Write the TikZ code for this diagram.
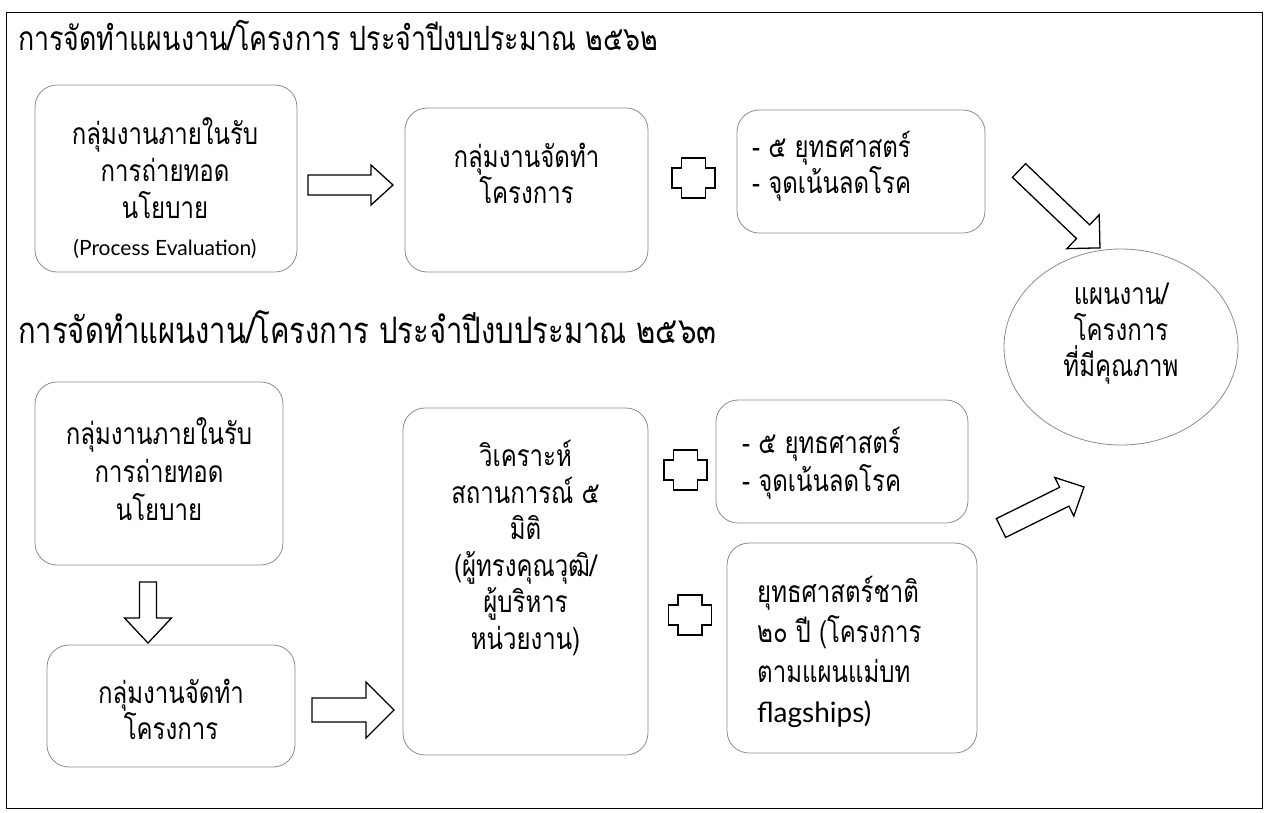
\documentclass[tikz,border=0pt]{standalone}
\usepackage{fontspec}
\newfontfamily\thai[Script=Thai,FakeStretch=0.8]{Loma}
\newfontfamily\latin{Lato}
\usetikzlibrary{shapes.geometric}
\tikzset{
  box/.style={draw=black!45, line width=0.8pt, rounded corners=22pt, inner sep=0pt},
  txt/.style={font=\thai\fontsize{30}{36}\selectfont, align=center, inner sep=0pt},
  ltxt/.style={font=\thai\fontsize{30}{30}\selectfont, align=left, inner sep=0pt, anchor=west},
  ttl/.style={font=\thai\fontsize{33.5}{36}\selectfont, inner sep=0pt, anchor=base west},
  arrsty/.style={draw=black, line width=1.3pt, fill=white, line join=miter},
  pics/barrow/.style n args={4}{code={%
    \draw[arrsty] (0,-#2) -- ({#1-#4},-#2) -- ({#1-#4},-#3) -- (#1,0) -- ({#1-#4},#3) -- ({#1-#4},#2) -- (0,#2) -- cycle;}},
  pics/plussign/.style={code={%
    \draw[arrsty] (-12,-20) -- (12,-20) -- (12,-10) -- (21.5,-10) -- (21.5,10) -- (12,10) -- (12,20) -- (-12,20) -- (-12,10) -- (-21.5,10) -- (-21.5,-10) -- (-12,-10) -- cycle;}}
}
\begin{document}
\begin{tikzpicture}[x=1pt,y=-1pt]
\useasboundingbox (0,0) rectangle (1272,812);
\node[draw=black, line width=1pt, minimum width=1256pt, minimum height=796pt, inner sep=0pt] (frame) at (634,410) {};

% titles
\node[ttl] (t1) at (18,50) {การจัดทำแผนงาน/โครงการ ประจำปีงบประมาณ ๒๕๖๒};
\node[ttl, font=\thai\fontsize{36.5}{38}\selectfont] (t2) at (18,343) {การจัดทำแผนงาน/โครงการ ประจำปีงบประมาณ ๒๕๖๓};

% top row boxes
\node[box, minimum width=262pt, minimum height=187pt] (A) at (166,178.5) {};
\node[txt, font=\thai\fontsize{30}{37}\selectfont] (At) at (165,188) {กลุ่มงานภายในรับ\\การถ่ายทอด\\นโยบาย\\{\latin\fontsize{21}{24}\selectfont (Process Evaluation)}};
\node[box, minimum width=243pt, minimum height=164pt] (B) at (526.5,190) {};
\node[txt] (Bt) at (526.5,173) {กลุ่มงานจัดทำ\\โครงการ};
\node[box, minimum width=248pt, minimum height=123pt] (C) at (861,171.5) {};
\node[ltxt] (Ct) at (752,166) {- ๕ ยุทธศาสตร์\\- จุดเน้นลดโรค};

% result ellipse
\node[ellipse, draw=black!45, line width=0.8pt, minimum width=234pt, minimum height=196pt, inner sep=0pt] (Q) at (1121,347) {};
\node[txt] (Qt) at (1121,334) {แผนงาน/\\โครงการ\\ที่มีคุณภาพ};

% bottom boxes
\node[box, minimum width=248pt, minimum height=183pt] (A2) at (159,473.5) {};
\node[txt, font=\thai\fontsize{30}{38}\selectfont] (A2t) at (159,469) {กลุ่มงานภายในรับ\\การถ่ายทอด\\นโยบาย};
\node[box, minimum width=248pt, minimum height=122pt] (D) at (171,706) {};
\node[txt] (Dt) at (171,709) {กลุ่มงานจัดทำ\\โครงการ};
\node[box, minimum width=245pt, minimum height=347pt] (E) at (525.5,581.5) {};
\node[txt, font=\thai\fontsize{30}{36.5}\selectfont] (Et) at (525.5,548) {วิเคราะห์\\สถานการณ์ ๕\\มิติ\\(ผู้ทรงคุณวุฒิ/\\ผู้บริหาร\\หน่วยงาน)};
\node[box, minimum width=252pt, minimum height=123pt] (F) at (842,461.5) {};
\node[ltxt, font=\thai\fontsize{30}{38}\selectfont] (Ft) at (742,463) {- ๕ ยุทธศาสตร์\\- จุดเน้นลดโรค};
\node[box, minimum width=250pt, minimum height=210pt] (G) at (852,648) {};
\node[ltxt, font=\thai\fontsize{30}{40}\selectfont] (Gt) at (757,652) {ยุทธศาสตร์ชาติ\\๒๐ ปี (โครงการ\\ตามแผนแม่บท\\{\latin\fontsize{28}{30}\selectfont flagships)}};

% block arrows
\pic at (308,185) {barrow={85}{10}{20}{22}};
\pic[rotate=-43.7] at (1019,170.5) {barrow={112}{9.5}{23.4}{23.4}};
\pic[rotate=-90] at (148,582) {barrow={61}{8.5}{23.5}{25}};
\pic at (312,710) {barrow={82}{12}{28}{28}};
\pic[rotate=26.3] at (1001,528) {barrow={92.6}{10.5}{21.5}{22}};

% plus signs
\pic at (693.5,178) {plussign};
\pic at (685.5,470) {plussign};
\pic at (690,615) {plussign};
\end{tikzpicture}
\end{document}
